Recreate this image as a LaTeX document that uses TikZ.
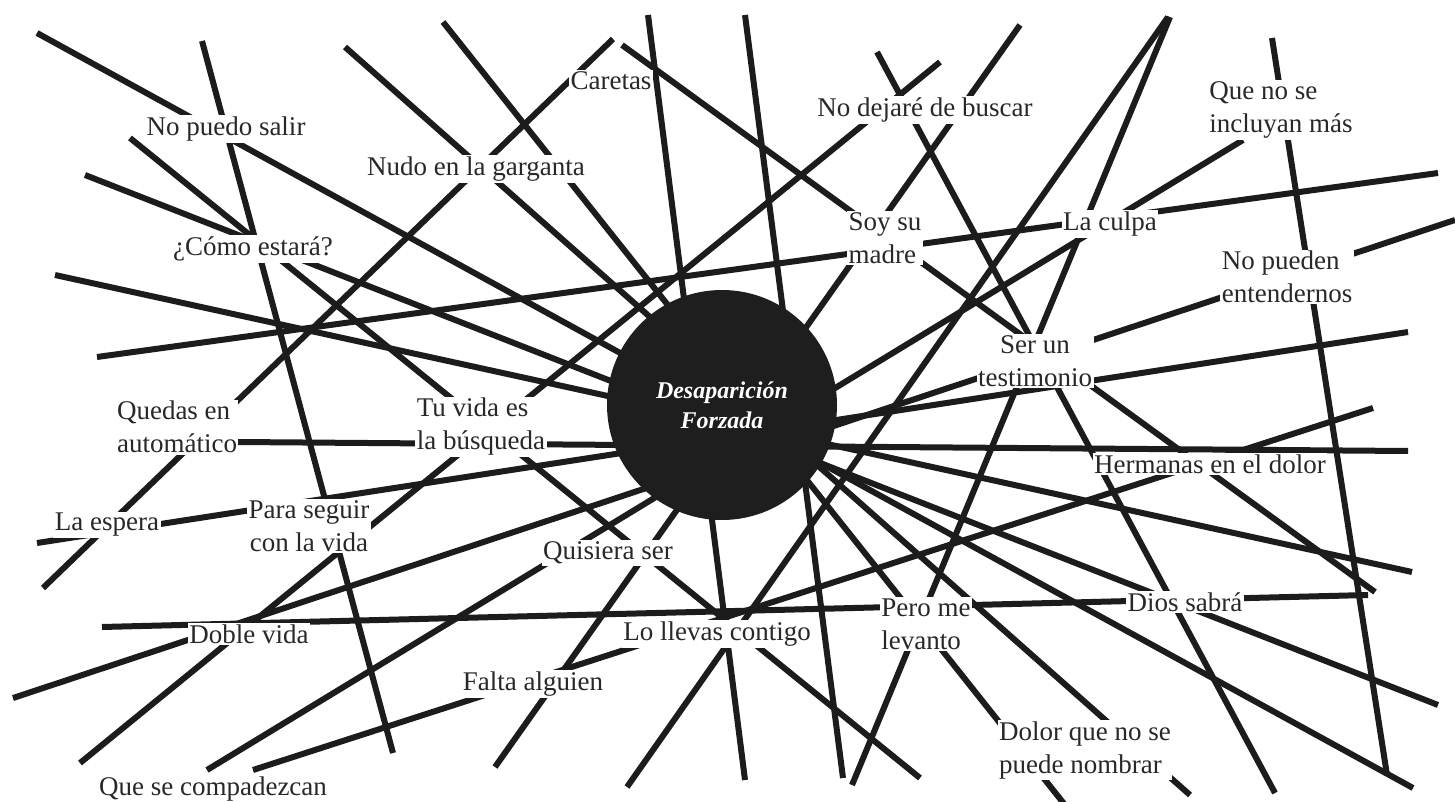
\documentclass[tikz,border=0pt]{standalone}
\usepackage{fontspec}
\setmainfont{Liberation Serif}
\definecolor{linec}{RGB}{28,28,28}
\definecolor{textc}{RGB}{40,40,40}
\definecolor{circc}{RGB}{30,30,30}
\begin{document}
\begin{tikzpicture}[x=1pt,y=-1pt,
  ln/.style={line width=6pt, draw=linec},
  lab/.style={fill=white, inner sep=1.5pt, text=textc, font=\fontsize{27}{33}\selectfont},
  labl/.style={lab, align=left},
  labc/.style={lab, align=center}]
\useasboundingbox (0,0) rectangle (1455,802);
\fill[white] (0,0) rectangle (1455,802);
% long lines
\draw[ln] (37,33) -- (1413,788);
\draw[ln] (202,41) -- (393,753);
\draw[ln] (130,138) -- (920,778);
\draw[ln] (85,175) -- (1438,705);
\draw[ln] (345,47) -- (1190,795);
\draw[ln] (443,22) -- (1065,805);
\draw[ln] (613,39) -- (43,588);
\draw[ln] (622,45) -- (1375,592);
\draw[ln] (648,15) -- (745,780);
\draw[ln] (745,15) -- (843,778);
\draw[ln] (940,62) -- (80,763);
\draw[ln] (97,357) -- (1438,173);
\draw[ln] (877,52) -- (1275,793);
\draw[ln] (1020,25) -- (495,767);
\draw[ln] (1168,17) -- (627,787);
\draw[ln] (1170,17) -- (852,785);
\draw[ln] (1243,140) -- (207,770);
\draw[ln] (1272,38) -- (1387,775);
\draw[ln] (13,698) -- (1455,220);
\draw[ln] (37,543) -- (1408,332);
\draw[ln] (1373,408) -- (253,770);
\draw[ln] (102,627) -- (1368,595);
\draw[ln] (238,442) -- (1408,451);
\draw[ln] (55,275) -- (1412,572);
% core
\node[circle, fill=circc, minimum size=230pt, inner sep=0pt, text=white, align=center,
  font=\fontsize{24}{30}\selectfont\bfseries\itshape] (core) at (722,405) {Desaparición\\Forzada};
% labels
\node[lab] (a1) at (226,129) {No puedo salir};
\node[lab] (a2) at (253,249) {¿Cómo estará?};
\node[lab] (a3) at (476,169) {Nudo en la garganta};
\node[lab] (a4) at (611,81) {Caretas};
\node[lab] (a5) at (925,110) {No dejaré de buscar};
\node[labl] (a6) at (1281,110) {Que no se\\incluyan más};
\node[labl] (a7) at (885,238) {Soy su\\madre};
\node[lab] (a8) at (1110,224) {La culpa};
\node[labl] (a9) at (1287,277) {No pueden\\entendernos};
\node[labc] (a10) at (1035,361) {Ser un\\testimonio};
\node[lab] (a11) at (1210,464) {Hermanas en el dolor};
\node[labl] (a12) at (177,427) {Quedas en\\automático};
\node[labl] (a13) at (481,427) {Tu vida es\\la búsqueda};
\node[lab] (a14) at (107,525) {La espera};
\node[labc] (a15) at (309,526) {Para seguir\\con la vida};
\node[lab] (a16) at (608,553) {Quisiera ser};
\node[lab] (a17) at (249,634) {Doble vida};
\node[lab] (a18) at (717,634) {Lo llevas contigo};
\node[labl] (a19) at (926,624) {Pero me\\levanto};
\node[lab] (a20) at (1185,602) {Dios sabrá};
\node[lab] (a21) at (533,684) {Falta alguien};
\node[labl] (a22) at (1085,750) {Dolor que no se\\puede nombrar};
\node[lab] (a23) at (213,789) {Que se compadezcan};
\end{tikzpicture}
\end{document}
